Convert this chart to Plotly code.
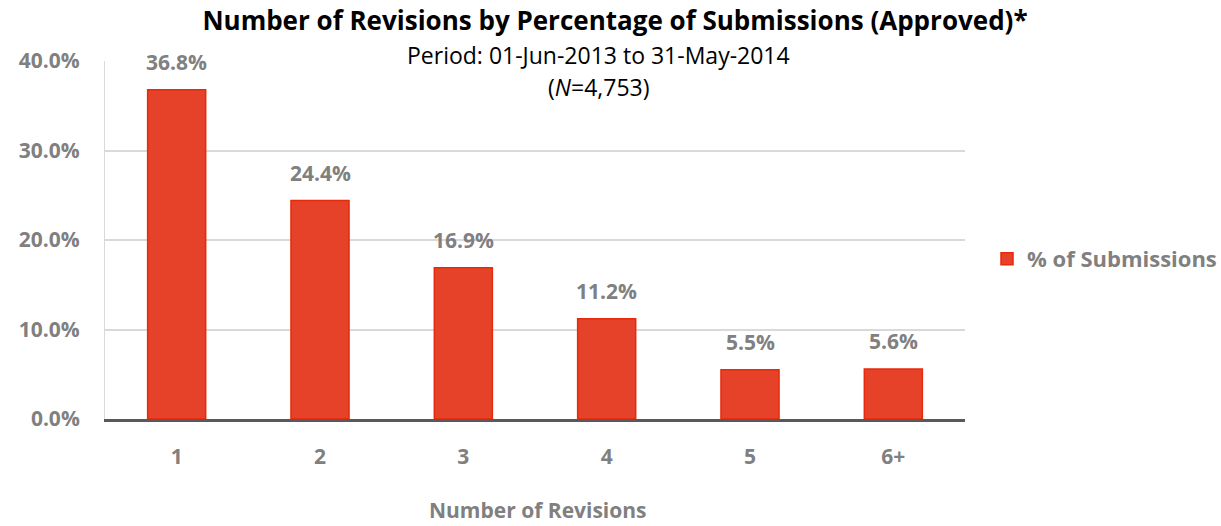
import plotly.graph_objects as go

categories = ["1", "2", "3", "4", "5", "6+"]
values = [36.8, 24.4, 16.9, 11.2, 5.5, 5.6]
labels = ["36.8%", "24.4%", "16.9%", "11.2%", "5.5%", "5.6%"]
y_ticks = [0, 10, 20, 30, 40]
y_tick_text = ["0.0%", "10.0%", "20.0%", "30.0%", "40.0%"]

FONT = "Open Sans"
GRAY = "#808080"

# plot area in pixels
L, R, T, B = 105, 965, 61, 419
W, H = 1221, 526


def px_x(px):
    return (px - L) / (R - L)


def px_y(py):
    return (B - py) / (B - T)


fig = go.Figure()
fig.add_trace(go.Bar(
    x=categories, y=values, name="% of Submissions",
    marker=dict(color="#E54229", line=dict(color="#E8290B", width=1.5)),
    cliponaxis=False,
))

annotations = []
for i, (v, t) in enumerate(zip(values, labels)):
    annotations.append(dict(
        x=i, y=v, xref="x", yref="y", text=f"<b>{t}</b>", showarrow=False,
        xanchor="center", yanchor="middle", yshift=28,
        font=dict(family=FONT, size=21, color=GRAY)))

annotations += [
    dict(text="Period: 01-Jun-2013 to 31-May-2014", x=px_x(598), y=px_y(55),
         xref="paper", yref="paper", xanchor="center", yanchor="middle",
         showarrow=False, font=dict(family=FONT, size=23, color="black")),
    dict(text="(<i>N</i>=4,753)", x=px_x(598), y=px_y(87),
         xref="paper", yref="paper", xanchor="center", yanchor="middle",
         showarrow=False, font=dict(family=FONT, size=23, color="black")),
    dict(text="<b>Number of Revisions</b>", x=px_x(538), y=px_y(510),
         xref="paper", yref="paper", xanchor="center", yanchor="middle",
         showarrow=False, font=dict(family=FONT, size=21, color=GRAY)),
]

fig.update_layout(
    width=W, height=H,
    margin=dict(l=L, r=W - R, t=T, b=H - B, autoexpand=False),
    paper_bgcolor="white", plot_bgcolor="white",
    bargap=0.595,
    showlegend=True,
    legend=dict(x=px_x(987), y=px_y(259), xanchor="left", yanchor="middle",
                font=dict(family=FONT, size=22, color=GRAY, weight="bold"),
                itemwidth=30),
    title=dict(text="<b>Number of Revisions by Percentage of Submissions (Approved)*</b>",
               x=615 / W, xanchor="center", y=1 - 21 / H, yanchor="middle",
               font=dict(family=FONT, size=26, color="black")),
    xaxis=dict(
        type="category",
        tickfont=dict(family=FONT, size=21, color=GRAY, weight="bold"),
        showline=True, linecolor="#595959", linewidth=3,
        ticks="", ticklabelstandoff=17, automargin=False,
    ),
    yaxis=dict(
        range=[0, 40], tickvals=y_ticks, ticktext=y_tick_text,
        tickfont=dict(family=FONT, size=21, color=GRAY, weight="bold"),
        showgrid=True, gridcolor="#D9D9D9", gridwidth=1.5,
        showline=True, linecolor="#D9D9D9", linewidth=1,
        zeroline=False, ticks="", ticklabelstandoff=20, automargin=False,
    ),
    annotations=annotations,
)

fig.write_html("out.html", config={"displayModeBar": False},
               post_script="document.body.style.margin='0px';")
